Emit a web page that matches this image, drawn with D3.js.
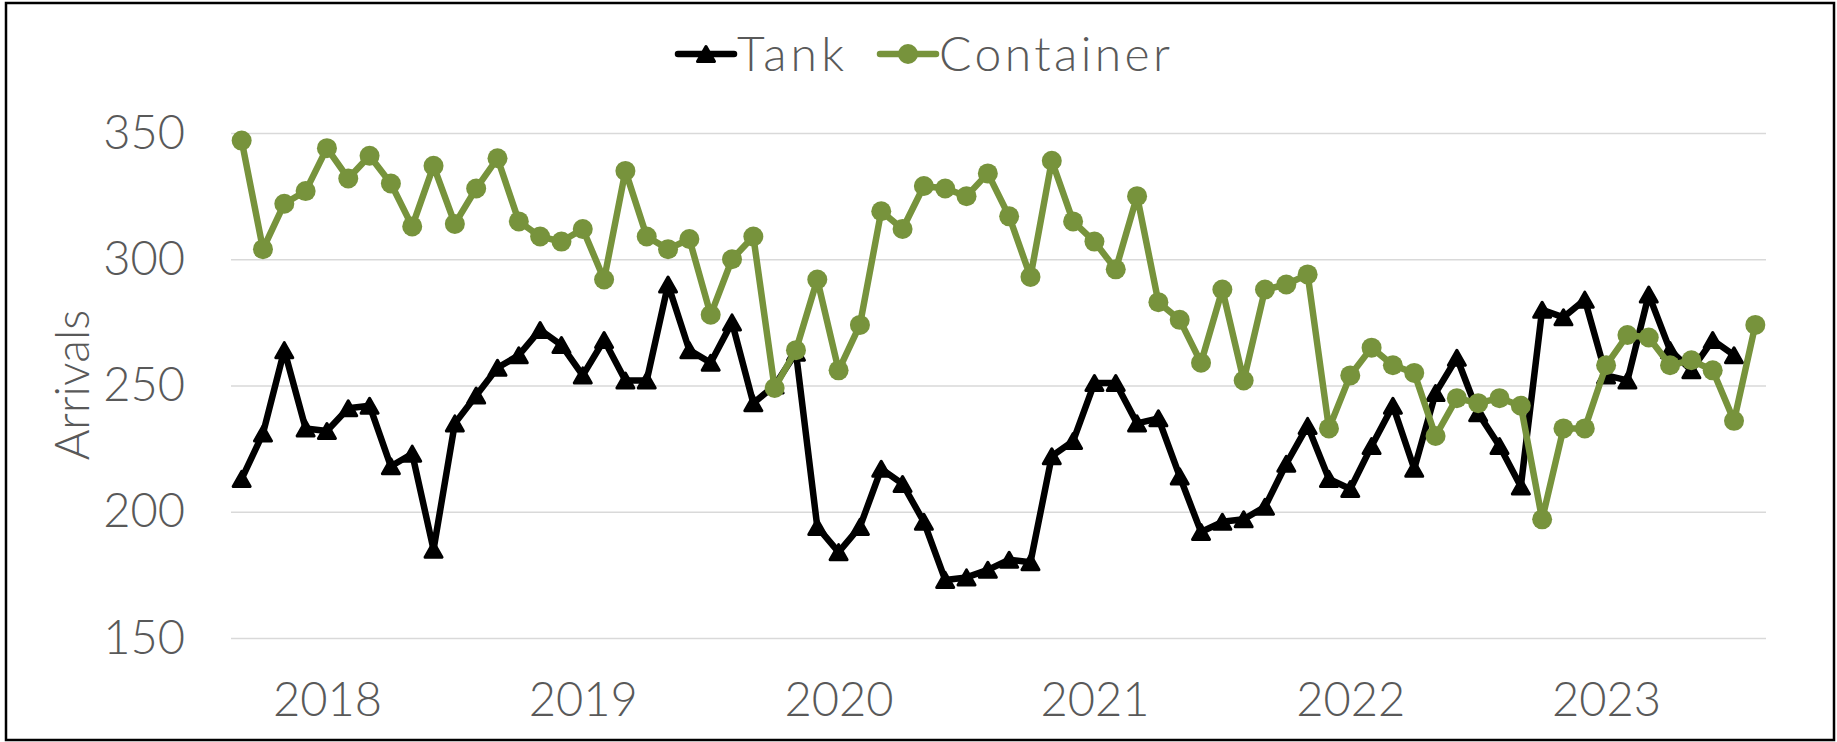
<!DOCTYPE html>
<html>
<head>
<meta charset="utf-8">
<script src="https://cdn.jsdelivr.net/npm/d3@7"></script>
<style>
  body { margin: 0; background: #fff; }
  text { font-family: Lato, "Noto Sans", sans-serif; font-weight: 300; fill: #595959; }
</style>
</head>
<body>
<svg id="chart"></svg>
<script>
// Monthly arrivals, first month is Sep 2017
const firstMonth = new Date(2017, 8, 1);

const tank = [
  213, 231, 264, 233, 232, 241, 242, 218, 223, 185, 235, 246,
  257, 262, 272, 266, 254, 268, 252, 252, 290, 264, 259, 275,
  243, 250, 263, 194, 184, 194, 217, 211, 196, 173, 174, 177,
  181, 180, 222, 228, 251, 251, 235, 237, 214, 192, 196, 197,
  202, 219, 234, 213, 209, 226, 242, 217, 247, 261, 239, 226,
  210, 280, 277, 284, 254, 252, 286, 264, 256, 268, 262
];

const container = [
  347, 304, 322, 327, 344, 332, 341, 330, 313, 337, 314, 328,
  340, 315, 309, 307, 312, 292, 335, 309, 304, 308, 278, 300,
  309, 249, 264, 292, 256, 274, 319, 312, 329, 328, 325, 334,
  317, 293, 339, 315, 307, 296, 325, 283, 276, 259, 288, 252,
  288, 290, 294, 233, 254, 265, 258, 255, 230, 245, 243, 245,
  242, 197, 233, 233, 258, 270, 269, 258, 260, 256, 236, 274
];

const yearLabels = ["2018", "2019", "2020", "2021", "2022", "2023"];
const yTicks = [150, 200, 250, 300, 350];

const seriesNames = ["Tank", "Container"];
const green = "#77933c";

// month categories, one per container value
const months = container.map((v, i) => d3.timeMonth.offset(firstMonth, i));

const width = 1837, height = 742;
const margin = { top: 133, right: 71, bottom: 104, left: 231 };
const plotW = width - margin.left - margin.right;
const plotH = height - margin.top - margin.bottom;
const fontSize = 47;
const lineW = 6.5;

const svg = d3.select("#chart")
  .attr("width", width)
  .attr("height", height);

// outer frame
svg.append("rect")
  .attr("x", 6).attr("y", 3)
  .attr("width", 1828).attr("height", 737)
  .attr("fill", "none")
  .attr("stroke", "#000")
  .attr("stroke-width", 2.5);

const g = svg.append("g")
  .attr("transform", "translate(" + margin.left + "," + margin.top + ")");

const x = d3.scalePoint().domain(months).range([0, plotW]).padding(0.5);
const y = d3.scaleLinear().domain([150, 350]).range([plotH, 0]);

// y axis with gridlines
const yAxis = g.append("g")
  .call(d3.axisLeft(y).tickValues(yTicks).tickSize(-plotW).tickPadding(46));
yAxis.select(".domain").remove();
yAxis.selectAll("line").attr("stroke", "#d9d9d9").attr("stroke-width", 1.5);
yAxis.selectAll("text")
  .attr("fill", "#595959")
  .style("font-size", fontSize + "px")
  .style("font-family", "Lato, 'Noto Sans', sans-serif");

// x axis, one label per year at January
const janMonths = yearLabels.map(yr => months.find(m => m.getFullYear() === +yr && m.getMonth() === 0));
const xAxis = g.append("g")
  .attr("transform", "translate(0," + plotH + ")")
  .call(d3.axisBottom(x).tickValues(janMonths).tickSize(0).tickPadding(45)
    .tickFormat((d, i) => yearLabels[i]));
xAxis.select(".domain").remove();
xAxis.selectAll("text")
  .attr("fill", "#595959")
  .style("font-size", fontSize + "px")
  .style("font-family", "Lato, 'Noto Sans', sans-serif");

// y axis title
svg.append("text")
  .attr("transform", "translate(89,385) rotate(-90)")
  .attr("text-anchor", "middle")
  .style("font-size", fontSize + "px")
  .text("Arrivals");

// triangle marker centred on its bounding box
const tri = {
  draw(ctx) {
    const h = 15, w = 8.5;
    ctx.moveTo(0, -h / 2);
    ctx.lineTo(w, h / 2);
    ctx.lineTo(-w, h / 2);
    ctx.closePath();
  }
};

const line = d3.line()
  .x((d, i) => x(months[i]))
  .y(d => y(d));

// Tank series
g.append("path")
  .datum(tank)
  .attr("fill", "none")
  .attr("stroke", "#000")
  .attr("stroke-width", lineW)
  .attr("stroke-linejoin", "round")
  .attr("d", line);

g.selectAll(".tank-pt")
  .data(tank)
  .enter().append("path")
  .attr("class", "tank-pt")
  .attr("transform", (d, i) => "translate(" + x(months[i]) + "," + y(d) + ")")
  .attr("d", d3.symbol().type(tri))
  .attr("fill", "#000")
  .attr("stroke", "#000")
  .attr("stroke-width", 3)
  .attr("stroke-linejoin", "round");

// Container series
g.append("path")
  .datum(container)
  .attr("fill", "none")
  .attr("stroke", green)
  .attr("stroke-width", lineW)
  .attr("stroke-linejoin", "round")
  .attr("d", line);

g.selectAll(".cont-pt")
  .data(container)
  .enter().append("circle")
  .attr("class", "cont-pt")
  .attr("cx", (d, i) => x(months[i]))
  .attr("cy", d => y(d))
  .attr("r", 10)
  .attr("fill", green);

// legend
const legend = svg.append("g");
const legendItems = [
  { name: seriesNames[0], x0: 678, textW: 107, color: "#000", marker: "tri" },
  { name: seriesNames[1], x0: 880, textW: 231, color: green, marker: "circle" }
];
legendItems.forEach(it => {
  const lg = legend.append("g");
  lg.append("line")
    .attr("x1", it.x0).attr("x2", it.x0 + 56)
    .attr("y1", 54).attr("y2", 54)
    .attr("stroke", it.color)
    .attr("stroke-width", lineW)
    .attr("stroke-linecap", "round");
  if (it.marker === "tri") {
    lg.append("path")
      .attr("transform", "translate(" + (it.x0 + 28) + ",54)")
      .attr("d", d3.symbol().type(tri))
      .attr("fill", it.color)
      .attr("stroke", it.color)
      .attr("stroke-width", 3)
      .attr("stroke-linejoin", "round");
  } else {
    lg.append("circle")
      .attr("cx", it.x0 + 28).attr("cy", 54)
      .attr("r", 10)
      .attr("fill", it.color);
  }
  lg.append("text")
    .attr("x", it.x0 + 59)
    .attr("y", 71)
    .attr("textLength", it.textW)
    .attr("lengthAdjust", "spacing")
    .style("font-size", (fontSize + 1) + "px")
    .text(it.name);
});
</script>
</body>
</html>
